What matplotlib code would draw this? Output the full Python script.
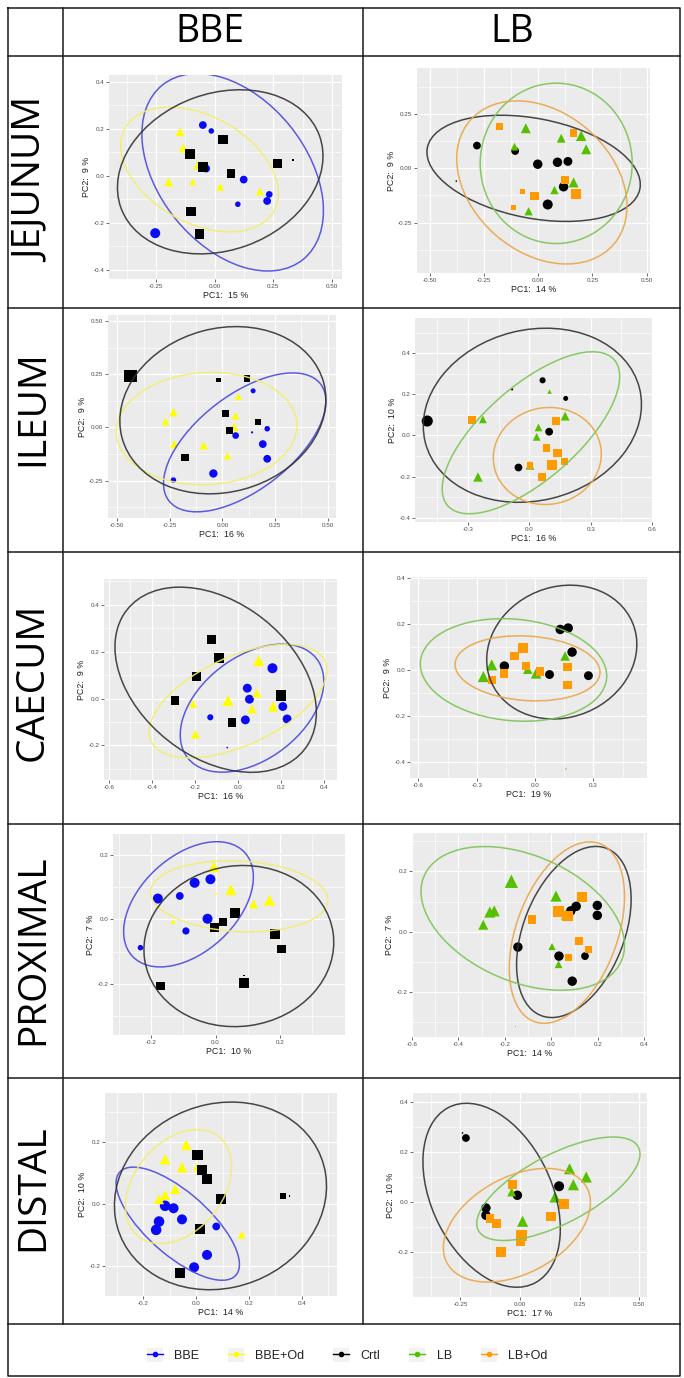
import numpy as np
import matplotlib
matplotlib.use('Agg')
import matplotlib.pyplot as plt
from matplotlib.patches import Ellipse, Rectangle
from matplotlib.lines import Line2D
from matplotlib.legend_handler import HandlerLine2D

plt.rcParams['font.family'] = ['Liberation Sans', 'DejaVu Sans']

groups = ['BBE', 'BBE+Od', 'Crtl', 'LB', 'LB+Od']
point_col = {'BBE': '#0A0AF5', 'BBE+Od': '#FFFF00', 'Crtl': '#000000',
             'LB': '#55C000', 'LB+Od': '#FF9A00'}
ell_col = {'BBE': '#4A4AE0', 'BBE+Od': '#F2EE6E', 'Crtl': '#333333',
           'LB': '#7CC455', 'LB+Od': '#EAA548'}
row_names = ['JEJUNUM', 'ILEUM', 'CAECUM', 'PROXIMAL', 'DISTAL']
col_names = ['BBE', 'LB']

# points: (PC1, PC2, size in px)
jej_bbe_bbe = [(-0.05, 0.215, 7), (-0.014, 0.19, 5), (-0.036, 0.03, 7), (0.124, -0.017, 7),
               (0.233, -0.08, 6), (0.224, -0.108, 7), (0.099, -0.122, 5), (-0.253, -0.245, 9)]
jej_bbe_od = [(-0.147, 0.186, 8), (-0.133, 0.118, 8), (-0.071, 0.044, 8), (-0.196, -0.027, 8),
              (-0.093, -0.027, 6), (0.024, -0.048, 7), (0.193, -0.067, 7)]
jej_bbe_crtl = [(0.036, 0.154, 8.5), (-0.104, 0.091, 9), (-0.05, 0.037, 8.5), (0.069, 0.009, 7.5),
                (0.267, 0.051, 8.5), (0.333, 0.065, 1.5), (-0.1, -0.152, 8.5), (-0.064, -0.248, 8.5)]

jej_lb_crtl = [(-0.282, 0.105, 7), (-0.377, -0.059, 1.5), (-0.106, 0.080, 7), (-0.002, 0.019, 8.5),
               (0.089, 0.028, 8.5), (0.137, 0.032, 8), (0.117, -0.085, 8.5), (0.044, -0.167, 9)]
jej_lb_lb = [(-0.057, 0.185, 9), (-0.109, 0.100, 7), (0.106, 0.139, 8), (0.198, 0.150, 9.5),
             (0.221, 0.088, 9), (0.163, -0.065, 9), (0.075, -0.100, 7.5), (-0.044, -0.198, 7.5)]
jej_lb_od = [(-0.178, 0.193, 7), (0.163, 0.162, 7), (0.124, -0.054, 7), (0.175, -0.119, 9),
             (-0.017, -0.128, 7.5), (-0.072, -0.105, 4.5), (-0.113, -0.181, 4.5)]

ile_bbe_bbe = [(0.146, 0.172, 4.5), (0.063, -0.038, 6), (0.141, -0.023, 2), (0.213, -0.006, 5),
               (0.192, -0.078, 7), (0.213, -0.147, 7), (-0.043, -0.216, 7.5), (-0.233, -0.247, 5)]
ile_bbe_od = [(-0.233, 0.072, 8), (-0.271, 0.028, 7), (0.076, 0.145, 6.5), (0.062, 0.055, 7),
              (0.056, 0.002, 7.5), (-0.229, -0.078, 7.5), (-0.089, -0.084, 7.5), (0.024, -0.133, 6.5)]
ile_bbe_crtl = [(-0.437, 0.242, 11), (-0.019, 0.223, 4), (0.117, 0.230, 6), (0.016, 0.064, 6.5),
                (0.032, -0.013, 6.5), (0.171, 0.027, 5.5), (-0.178, -0.141, 7)]

ile_lb_crtl = [(-0.499, 0.07, 10), (0.065, 0.268, 5.5), (-0.084, 0.224, 2), (0.178, 0.18, 4.5),
               (0.097, 0.018, 7), (-0.053, -0.156, 7)]
ile_lb_lb = [(0.099, 0.213, 4), (0.175, 0.094, 8), (-0.227, 0.078, 7), (0.045, 0.039, 7),
             (0.036, -0.007, 7), (0.003, -0.145, 8), (-0.251, -0.202, 8.5)]
ile_lb_od = [(-0.279, 0.075, 7), (0.13, 0.072, 7), (0.084, -0.063, 7), (0.138, -0.085, 7.5),
             (0.11, -0.145, 9), (0.172, -0.127, 7), (0.062, -0.202, 7), (0.003, -0.145, 6)]

cae_bbe_bbe = [(0.16, 0.129, 9), (0.043, 0.044, 8), (0.053, -0.003, 8), (0.034, -0.091, 8),
               (-0.129, -0.08, 5.5), (0.208, -0.034, 8), (0.228, -0.087, 8), (-0.05, -0.209, 1.5)]
cae_bbe_od = [(0.096, 0.161, 10), (-0.209, -0.023, 7), (-0.198, -0.152, 8), (-0.047, -0.009, 10),
              (0.087, 0.023, 8), (0.065, -0.044, 8), (0.163, -0.034, 9)]
cae_bbe_crtl = [(-0.124, 0.253, 8), (-0.087, 0.172, 9), (-0.194, 0.094, 8.5), (-0.293, -0.009, 8),
                (-0.028, -0.101, 8), (0.2, 0.013, 9.5)]

cae_lb_crtl = [(0.129, 0.177, 8.5), (0.17, 0.183, 8.5), (0.19, 0.078, 8.5), (-0.158, 0.017, 8.5),
               (0.074, -0.02, 8), (0.274, -0.025, 8)]
cae_lb_lb = [(-0.266, -0.029, 10), (-0.223, 0.022, 10), (-0.038, 0.003, 8.5), (0.005, -0.015, 9.5),
             (0.154, 0.061, 8.5), (0.158, -0.431, 1.5)]
cae_lb_od = [(-0.06, 0.094, 9), (-0.106, 0.061, 7.5), (-0.046, 0.017, 7.5), (-0.16, -0.015, 7.5),
             (-0.22, -0.044, 7.5), (0.026, -0.007, 7.5), (0.166, 0.012, 7.5), (0.166, -0.065, 7.5)]

pro_bbe_bbe = [(-0.179, 0.065, 9), (-0.111, 0.073, 7), (-0.065, 0.114, 9), (-0.016, 0.125, 9),
               (-0.025, 0.002, 9), (-0.092, -0.036, 6.5), (-0.233, -0.088, 5)]
pro_bbe_od = [(-0.006, 0.164, 10), (0.047, 0.093, 10), (0.167, 0.06, 10), (0.118, 0.048, 8),
              (0.001, 0.081, 2.5), (-0.132, -0.007, 4.5)]
pro_bbe_crtl = [(0.061, 0.021, 9), (0.022, -0.009, 7), (-0.004, -0.026, 8), (0.184, -0.046, 9),
                (0.204, -0.092, 7.5), (-0.171, -0.208, 7.5), (0.089, -0.197, 9), (0.089, -0.175, 1.5)]

pro_lb_crtl = [(-0.144, -0.051, 8.5), (0.033, -0.081, 8.5), (0.145, -0.081, 7), (0.09, -0.164, 8.5),
               (0.084, 0.069, 8.5), (0.107, 0.084, 8.5), (0.198, 0.087, 8.5), (0.198, 0.054, 8.5)]
pro_lb_lb = [(-0.172, 0.167, 12), (-0.265, 0.065, 10), (-0.246, 0.069, 10), (-0.293, 0.023, 9),
             (0.02, 0.118, 10), (0.063, 0.056, 9), (0.003, -0.049, 6.5), (0.031, -0.108, 7)]
pro_lb_od = [(-0.083, 0.04, 8), (0.031, 0.067, 9.5), (0.07, 0.052, 9.5), (0.131, 0.115, 9),
             (0.118, -0.031, 7.5), (0.16, -0.06, 6), (0.074, -0.086, 6), (-0.154, -0.314, 1.5)]

dis_bbe_bbe = [(-0.118, -0.005, 9.5), (-0.086, -0.013, 9), (-0.054, -0.049, 9), (-0.141, -0.056, 9.5),
               (-0.152, -0.083, 9.5), (0.076, -0.072, 7), (0.041, -0.164, 9), (-0.008, -0.204, 9)]
dis_bbe_od = [(-0.038, 0.192, 9.5), (-0.118, 0.146, 9.5), (-0.054, 0.12, 9.5), (0.003, 0.12, 7),
              (-0.08, 0.049, 9), (-0.118, 0.03, 9), (-0.141, 0.016, 9), (0.173, -0.099, 7)]
dis_bbe_crtl = [(0.005, 0.16, 9.5), (0.022, 0.111, 9), (0.041, 0.082, 9), (0.094, 0.016, 9),
                (0.015, -0.08, 9), (-0.061, -0.224, 9), (0.329, 0.027, 6), (0.354, 0.027, 1.5)]

dis_lb_crtl = [(-0.227, 0.256, 7), (-0.241, 0.276, 1.5), (-0.011, 0.027, 8.5), (-0.143, -0.024, 8.5),
               (-0.143, -0.053, 8.5), (0.164, 0.063, 9)]
dis_lb_lb = [(0.208, 0.133, 10), (0.278, 0.1, 10), (0.224, 0.069, 10), (0.147, 0.02, 10),
             (-0.035, 0.04, 8), (0.011, -0.077, 10)]
dis_lb_od = [(-0.032, 0.071, 8), (0.185, -0.007, 9), (0.13, -0.057, 8.5), (-0.126, -0.067, 8),
             (-0.098, -0.087, 8), (0.007, -0.133, 9.5), (0.003, -0.157, 8.5), (-0.08, -0.2, 8.5)]

# ellipses: centre x, centre y, width, height, angle
jej_bbe_ell = [(0.077, 0.014, 0.954, 0.628, -51), (-0.064, 0.026, 0.726, 0.454, -29), (0.024, 0.016, 0.9, 0.667, 20)]
jej_lb_ell = [(-0.021, 0.0, 0.997, 0.46, -11), (0.083, 0.023, 0.70, 0.74, 0), (0.017, -0.065, 0.874, 0.646, -41)]
ile_bbe_ell = [(0.106, -0.07, 0.906, 0.448, 37), (-0.075, -0.005, 0.86, 0.526, 3), (0.002, 0.081, 0.993, 0.768, 15)]
ile_lb_ell = [(0.015, 0.098, 1.08, 0.83, 14), (0.008, 0.013, 1.08, 0.456, 41), (0.088, -0.1, 0.53, 0.47, 10)]
cae_bbe_ell = [(0.065, -0.041, 0.735, 0.45, 32), (0.0, -0.011, 0.878, 0.382, 22), (-0.104, 0.08, 1.02, 0.677, -32)]
cae_lb_ell = [(0.137, 0.078, 0.778, 0.576, 11), (-0.111, 0.0, 0.96, 0.444, -4), (-0.039, 0.007, 0.746, 0.282, -3)]
pro_bbe_ell = [(-0.084, 0.047, 0.475, 0.297, 43), (0.073, 0.072, 0.55, 0.22, -3), (0.072, -0.083, 0.59, 0.5, 8)]
pro_lb_ell = [(0.097, -0.001, 0.63, 0.41, 55), (-0.123, 0.044, 0.9, 0.43, -15), (0.067, -0.003, 0.66, 0.415, 58)]
dis_bbe_ell = [(-0.07, -0.063, 0.554, 0.215, -35.5), (-0.067, 0.057, 0.45, 0.31, 38), (0.092, 0.027, 0.81, 0.6, 10)]
dis_lb_ell = [(-0.119, 0.027, 0.79, 0.5, -62), (0.161, 0.053, 0.75, 0.28, 26), (-0.013, -0.093, 0.66, 0.39, 26)]

# explained variance (PC1, PC2) per panel
pc_var = [(15, 9), (14, 9), (16, 9), (16, 10), (16, 9), (19, 9), (10, 7), (14, 7), (14, 10), (17, 10)]

# axis breaks per panel: (x breaks, x decimals, y breaks, y decimals)
breaks = [
    ([-0.25, 0, 0.25, 0.5], 2, [-0.4, -0.2, 0, 0.2, 0.4], 1),
    ([-0.5, -0.25, 0, 0.25, 0.5], 2, [-0.25, 0, 0.25], 2),
    ([-0.5, -0.25, 0, 0.25, 0.5], 2, [-0.25, 0, 0.25, 0.5], 2),
    ([-0.3, 0, 0.3, 0.6], 1, [-0.4, -0.2, 0, 0.2, 0.4], 1),
    ([-0.6, -0.4, -0.2, 0, 0.2, 0.4], 1, [-0.2, 0, 0.2, 0.4], 1),
    ([-0.6, -0.3, 0, 0.3], 1, [-0.4, -0.2, 0, 0.2, 0.4], 1),
    ([-0.2, 0, 0.2], 1, [-0.2, 0, 0.2], 1),
    ([-0.6, -0.4, -0.2, 0, 0.2, 0.4], 1, [-0.2, 0, 0.2], 1),
    ([-0.2, 0, 0.2, 0.4], 1, [-0.2, 0, 0.2], 1),
    ([-0.25, 0, 0.25, 0.5], 2, [-0.2, 0, 0.2, 0.4], 1),
]

panel_data = [
    (['BBE', 'BBE+Od', 'Crtl'], [jej_bbe_bbe, jej_bbe_od, jej_bbe_crtl], jej_bbe_ell),
    (['Crtl', 'LB', 'LB+Od'], [jej_lb_crtl, jej_lb_lb, jej_lb_od], jej_lb_ell),
    (['BBE', 'BBE+Od', 'Crtl'], [ile_bbe_bbe, ile_bbe_od, ile_bbe_crtl], ile_bbe_ell),
    (['Crtl', 'LB', 'LB+Od'], [ile_lb_crtl, ile_lb_lb, ile_lb_od], ile_lb_ell),
    (['BBE', 'BBE+Od', 'Crtl'], [cae_bbe_bbe, cae_bbe_od, cae_bbe_crtl], cae_bbe_ell),
    (['Crtl', 'LB', 'LB+Od'], [cae_lb_crtl, cae_lb_lb, cae_lb_od], cae_lb_ell),
    (['BBE', 'BBE+Od', 'Crtl'], [pro_bbe_bbe, pro_bbe_od, pro_bbe_crtl], pro_bbe_ell),
    (['Crtl', 'LB', 'LB+Od'], [pro_lb_crtl, pro_lb_lb, pro_lb_od], pro_lb_ell),
    (['BBE', 'BBE+Od', 'Crtl'], [dis_bbe_bbe, dis_bbe_od, dis_bbe_crtl], dis_bbe_ell),
    (['Crtl', 'LB', 'LB+Od'], [dis_lb_crtl, dis_lb_lb, dis_lb_od], dis_lb_ell),
]

# layout (pixels): panel rectangles and axis limits
W, H = 684, 1378
panel_px = [(109, 342, 75, 279), (417, 650, 68, 273), (108, 336, 315, 518), (415, 652, 318, 522),
            (104, 337, 579, 780), (410, 647, 577, 778), (113, 345, 834, 1035), (412, 647, 833, 1037),
            (105, 337, 1093, 1296), (413, 647, 1093, 1297)]
limits = [((-0.45, 0.543), (-0.44, 0.428)), ((-0.558, 0.515), (-0.483, 0.463)),
          ((-0.544, 0.54), (-0.425, 0.528)), ((-0.559, 0.592), (-0.421, 0.571)),
          ((-0.623, 0.46), (-0.347, 0.509)), ((-0.643, 0.575), (-0.472, 0.406)),
          ((-0.318, 0.401), (-0.36, 0.266)), ((-0.595, 0.412), (-0.349, 0.327)),
          ((-0.346, 0.534), (-0.297, 0.36)), ((-0.449, 0.533), (-0.38, 0.436))]
shapes = ['o', '^', 's']


def minors(br, lo, hi):
    br = np.array(br, dtype=float)
    step = br[1] - br[0]
    m = np.arange(br[0] - step / 2, br[-1] + step, step)
    return [v for v in m if lo <= v <= hi]


fig = plt.figure(figsize=(W / 100, H / 100), dpi=100)

# table frame
bg = fig.add_axes([0, 0, 1, 1], zorder=-5)
bg.set_xlim(0, W)
bg.set_ylim(H, 0)
bg.axis('off')
lc = '#1a1a1a'
bg.plot([8, 680, 680, 8, 8], [8, 8, 1376, 1376, 8], color=lc, lw=1.1)
for y in [56, 308, 552, 824, 1078, 1324]:
    bg.plot([8, 680], [y, y], color=lc, lw=1.1)
for x in [63, 363]:
    bg.plot([x, x], [8, 1324], color=lc, lw=1.1)

big_font = ['Open Sans', 'DejaVu Sans']
bg.text(210, 32, col_names[0], ha='center', va='center', fontsize=27, family=big_font)
bg.text(512, 32, col_names[1], ha='center', va='center', fontsize=27, family=big_font)
for name, yc in zip(row_names, [180, 408, 682, 950, 1188]):
    bg.text(33, yc, name, ha='center', va='center', rotation=90, fontsize=28, family=big_font)

for i, (gnames, pts, ells) in enumerate(panel_data):
    x0, x1, y0, y1 = panel_px[i]
    ax = fig.add_axes([x0 / W, 1 - y1 / H, (x1 - x0) / W, (y1 - y0) / H])
    ax.set_facecolor('#EBEBEB')
    for s in ax.spines.values():
        s.set_visible(False)
    (xl, yl) = limits[i]
    ax.set_xlim(*xl)
    ax.set_ylim(*yl)
    xb, xd, yb, yd = breaks[i]
    ax.set_xticks(xb)
    ax.set_xticklabels([f'{v:.{xd}f}' for v in xb])
    ax.set_yticks(yb)
    ax.set_yticklabels([f'{v:.{yd}f}' for v in yb])
    ax.set_xticks(minors(xb, *xl), minor=True)
    ax.set_yticks(minors(yb, *yl), minor=True)
    ax.grid(which='major', color='white', lw=0.9)
    ax.grid(which='minor', color='white', lw=0.45)
    ax.set_axisbelow(True)
    ax.tick_params(which='major', length=2, width=0.5, color='#333333', labelsize=4.5,
                   labelcolor='#4D4D4D', pad=1.5)
    ax.tick_params(which='minor', length=0)
    ax.set_xlabel(f'PC1:  {pc_var[i][0]} %', fontsize=6.4, color='#222222', labelpad=1.5)
    ax.set_ylabel(f'PC2:  {pc_var[i][1]} %', fontsize=6.4, color='#222222', labelpad=1.5)

    for g, p, mk in zip(gnames, pts, shapes):
        arr = np.array(p)
        ax.scatter(arr[:, 0], arr[:, 1], s=(arr[:, 2] * 0.8) ** 2, marker=mk,
                   color=point_col[g], linewidths=0, zorder=3)
    for g, e in zip(gnames, ells):
        ax.add_patch(Ellipse((e[0], e[1]), e[2], e[3], angle=e[4], fill=False,
                             edgecolor=ell_col[g], lw=1.1, alpha=0.9, zorder=4))


class KeyHandler(HandlerLine2D):
    def create_artists(self, legend, orig_handle, xdescent, ydescent, width, height, fontsize, trans):
        arts = super().create_artists(legend, orig_handle, xdescent, ydescent, width, height, fontsize, trans)
        r = Rectangle((-xdescent, -ydescent), width, height, facecolor='#F2F2F2',
                      edgecolor='none', transform=trans)
        return [r] + list(arts)


handles = [Line2D([], [], color=point_col[g], marker='o', markersize=3, lw=1.0) for g in groups]
fig.legend(handles, groups, loc='center', bbox_to_anchor=(347 / W, 1 - 1355 / H), ncol=5,
           frameon=False, fontsize=9, handlelength=1.3, handleheight=1.3, handletextpad=0.9,
           columnspacing=2.3, labelcolor='#222222',
           handler_map={Line2D: KeyHandler(numpoints=1)})

fig.savefig('out.png', dpi=100)
